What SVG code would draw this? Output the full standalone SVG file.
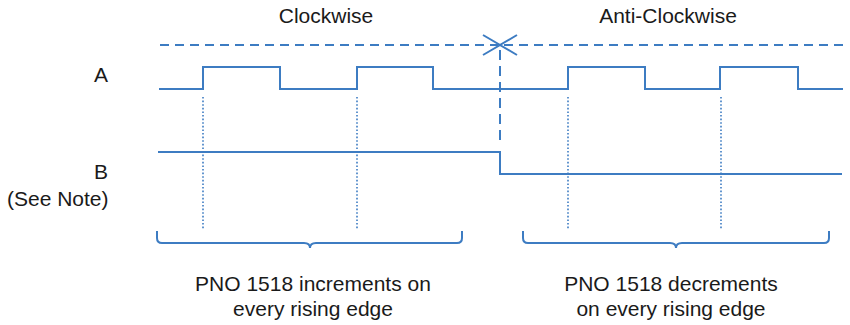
<svg xmlns="http://www.w3.org/2000/svg" width="850" height="325" viewBox="0 0 850 325">
<style>
.t{font-family:"Liberation Sans",Arial,sans-serif;font-size:21px;fill:#1a1a1a}
.c{text-anchor:middle}
.s{fill:none;stroke:#3d7cc2;stroke-width:2}
.d{fill:none;stroke:#3d7cc2;stroke-width:2;stroke-dasharray:9 6}
.dot{fill:none;stroke:#3d7cc2;stroke-width:1.6;stroke-dasharray:1.6 2}
</style>
<rect width="850" height="325" fill="#fff"/>
<g id="labels">
<text class="t c" x="326" y="23">Clockwise</text>
<text class="t c" x="668" y="23">Anti-Clockwise</text>
<text class="t" x="94" y="82">A</text>
<text class="t" x="94" y="179">B</text>
<text class="t" x="7" y="206">(See Note)</text>
<text class="t c" x="313" y="291">PNO 1518 increments on</text>
<text class="t c" x="313" y="316">every rising edge</text>
<text class="t c" x="671" y="291">PNO 1518 decrements</text>
<text class="t c" x="671" y="316">on every rising edge</text>
</g>
<g id="direction">
<path class="d" d="M160,45 H498"/>
<path class="d" d="M843,45 H502"/>
<path class="s" d="M483,35 L500,45 L483,55 M517,35 L500,45 L517,55"/>
<path class="d" d="M500,50 V142" style="stroke-dasharray:10 6"/>
</g>
<g id="signal-a">
<path class="s" d="M159,89 H203 V67 H280 V89 H357 V67 H433 V89 H568 V67 H645 V89 H720 V67 H798 V89 H843"/>
</g>
<g id="signal-b">
<path class="s" d="M158,152 H500 V174 H842"/>
</g>
<g id="markers">
<path class="dot" d="M203,97 V229 M357,97 V230 M568,97 V230 M721,97 V230"/>
</g>
<g id="braces">
<path class="s" d="M157,231 V238 Q157,243 162,243 H304 Q310,243 310,248 Q310,243 316,243 H457 Q462,243 462,238 V231"/>
<path class="s" d="M523,231 V238 Q523,243 528,243 H670 Q676,243 676,248 Q676,243 682,243 H824 Q829,243 829,238 V231"/>
</g>
</svg>
